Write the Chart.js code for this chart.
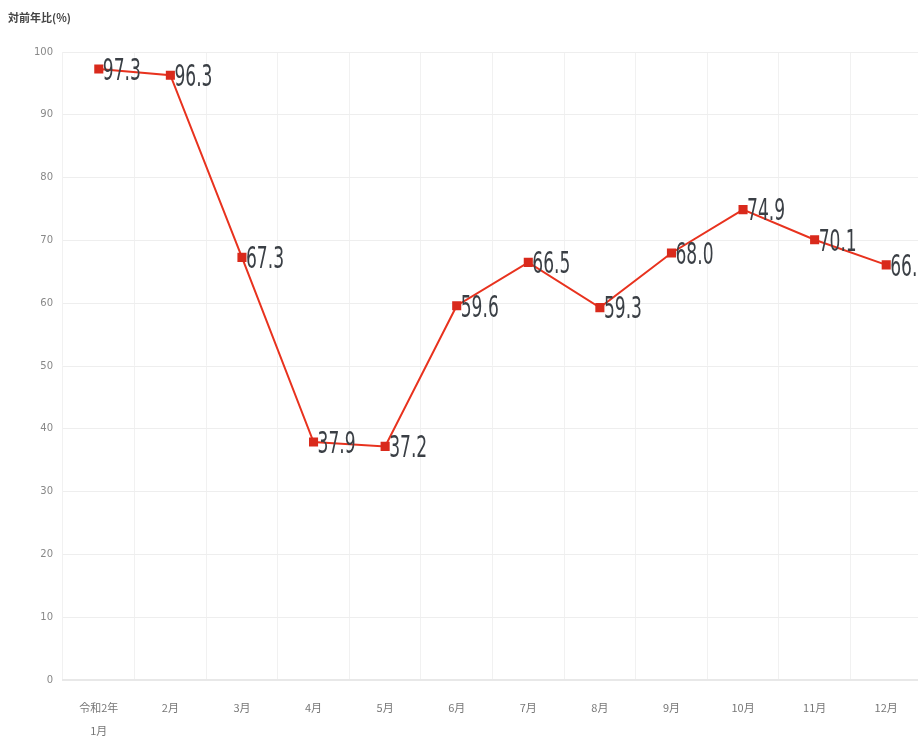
<!DOCTYPE html>
<html>
<head>
<meta charset="utf-8">
<script src="https://cdn.jsdelivr.net/npm/chart.js@4"></script>
<style>
  html, body { margin: 0; padding: 0; background: #fff; overflow: hidden; }
  #wrap { width: 930px; height: 745px; }
</style>
</head>
<body>
<div id="wrap"><canvas id="yoyChart" width="930" height="745"></canvas></div>
<script>
const months = [['令和2年', '1月'], '2月', '3月', '4月', '5月', '6月', '7月', '8月', '9月', '10月', '11月', '12月'];
const yoyValues = [97.3, 96.3, 67.3, 37.9, 37.2, 59.6, 66.5, 59.3, 68.0, 74.9, 70.1, 66.1];
const yTicks = [0, 10, 20, 30, 40, 50, 60, 70, 80, 90, 100];
const axisTitle = '対前年比(%)';

// 値ラベル(縦長の数字)と軸タイトルを描く
const valueLabels = {
    id: 'valueLabels',
    afterDatasetsDraw(chart) {
        const ctx = chart.ctx;
        const meta = chart.getDatasetMeta(0);
        ctx.save();
        ctx.font = '30px "DejaVu Sans", sans-serif';
        ctx.fillStyle = '#3a3f45';
        ctx.textAlign = 'left';
        ctx.textBaseline = 'middle';
        meta.data.forEach((pt, i) => {
            ctx.save();
            ctx.translate(pt.x + 4, pt.y + 3);
            ctx.scale(0.57, 1);
            ctx.fillText(yoyValues[i].toFixed(1), 0, 0);
            ctx.restore();
        });
        ctx.font = 'bold 11px "Noto Sans CJK JP", sans-serif';
        ctx.fillStyle = '#444';
        ctx.fillText(axisTitle, 8, 18);
        ctx.restore();
    }
};

new Chart(document.getElementById('yoyChart'), {
    type: 'line',
    data: {
        labels: months,
        datasets: [{
            data: yoyValues,
            borderColor: '#e8321e',
            borderWidth: 2,
            pointStyle: 'rect',
            pointRadius: 5,
            pointBackgroundColor: '#d92a1c',
            pointBorderColor: '#d92a1c',
            tension: 0
        }]
    },
    options: {
        responsive: false,
        animation: false,
        layout: { padding: { top: 52, left: 0, right: 8, bottom: 0 } },
        plugins: {
            legend: { display: false },
            tooltip: { enabled: false }
        },
        scales: {
            x: {
                offset: true,
                grid: { offset: true, color: '#f1f1f1', drawTicks: false },
                border: { color: '#e8e8e8', width: 2 },
                ticks: {
                    color: '#777',
                    font: { size: 11, family: '"Noto Sans CJK JP", sans-serif', lineHeight: 2.1 },
                    padding: 16,
                    maxRotation: 0
                },
                afterFit: s => { s.height = 65; }
            },
            y: {
                min: 0,
                max: 100,
                afterBuildTicks: s => { s.ticks = yTicks.map(v => ({ value: v })); },
                grid: { color: '#eeeeee', drawTicks: false },
                border: { display: false },
                ticks: {
                    color: '#888',
                    font: { size: 10, family: '"DejaVu Sans", sans-serif' },
                    padding: 10
                },
                afterFit: s => { s.width = 63; }
            }
        }
    },
    plugins: [valueLabels]
});
</script>
</body>
</html>
